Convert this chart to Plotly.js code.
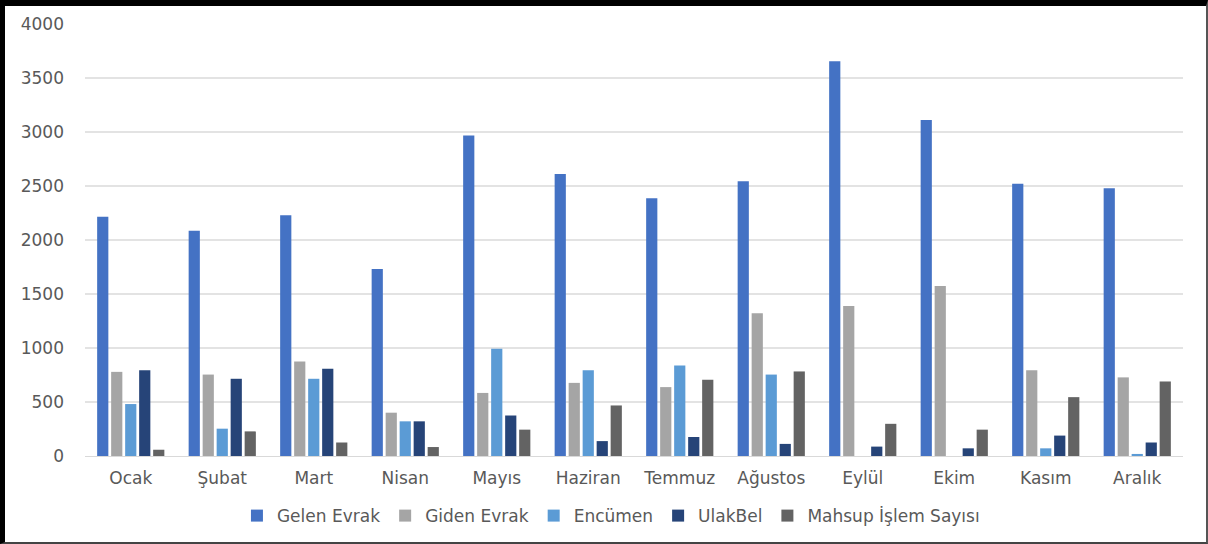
<!DOCTYPE html>
<html>
<head>
<meta charset="utf-8">
<script src="https://cdn.plot.ly/plotly-3.0.1.min.js"></script>
<style>
  html, body { margin: 0; padding: 0; background: #fff; }
  #wrap { position: relative; width: 1208px; height: 544px; }
  #chart { width: 1208px; height: 544px; }
  #frame { position: absolute; left: 0; top: 0; width: 1208px; height: 544px; box-sizing: border-box;
           border-top: 6px solid #000; border-left: 5px solid #000; border-right: 2px solid #555; border-bottom: 2px solid #444;
           pointer-events: none; }
</style>
</head>
<body>
<div id="wrap">
  <div id="chart"></div>
  <div id="frame"></div>
</div>
<script>
const months = ["Ocak", "Şubat", "Mart", "Nisan", "Mayıs", "Haziran", "Temmuz", "Ağustos", "Eylül", "Ekim", "Kasım", "Aralık"];
const gelenEvrak = [2216, 2085, 2229, 1732, 2967, 2611, 2387, 2544, 3654, 3112, 2521, 2480];
const gidenEvrak = [779, 754, 876, 401, 584, 677, 638, 1322, 1389, 1575, 795, 728];
const encumen    = [481, 253, 715, 321, 994, 795, 837, 754, 0, 0, 71, 19];
const ulakBel    = [795, 715, 808, 321, 375, 138, 176, 112, 87, 71, 189, 125];
const mahsup     = [58, 228, 125, 83, 244, 468, 706, 783, 298, 244, 545, 690];
const seriesNames = ["Gelen Evrak", "Giden Evrak", "Encümen", "UlakBel", "Mahsup İşlem Sayısı"];
const seriesColors = ["#4472C4", "#A5A5A5", "#5B9BD5", "#264478", "#636363"];
const yTicks = [0, 500, 1000, 1500, 2000, 2500, 3000, 3500, 4000];

const allSeries = [gelenEvrak, gidenEvrak, encumen, ulakBel, mahsup];
const traces = allSeries.map((vals, i) => ({
  type: "bar",
  name: seriesNames[i],
  x: months,
  y: vals,
  marker: { color: seriesColors[i] },
  hoverinfo: "x+y+name"
}));

const font = "'DejaVu Sans', 'Open Sans', sans-serif";
const layout = {
  width: 1208, height: 544,
  margin: { l: 85, r: 25, t: 24, b: 88, autoexpand: false },
  paper_bgcolor: "#ffffff", plot_bgcolor: "#ffffff",
  barmode: "group", bargap: 0.235, bargroupgap: 0.2,
  font: { family: font, color: "#595959", size: 17 },
  xaxis: {
    type: "category",
    showgrid: false, tickangle: 0, automargin: false,
    showline: true, linecolor: "#d9d9d9", linewidth: 1,
    ticks: "", tickfont: { family: font, size: 17, color: "#595959" },
    ticklabelstandoff: 7
  },
  yaxis: {
    range: [0, 4000], automargin: false,
    tickvals: yTicks,
    ticktext: yTicks.map(String),
    showgrid: true, gridcolor: "#e3e3e3", gridwidth: 1.5,
    zeroline: false, showline: false,
    ticks: "", tickfont: { family: font, size: 17, color: "#595959" },
    ticklabelstandoff: 20
  },
  showlegend: true,
  legend: {
    orientation: "h", x: 0.479, xanchor: "center",
    y: -0.139, yanchor: "middle",
    font: { family: font, size: 17, color: "#595959" },
    traceorder: "normal"
  }
};

Plotly.newPlot("chart", traces, layout, { displayModeBar: false, staticPlot: true });
</script>
</body>
</html>
